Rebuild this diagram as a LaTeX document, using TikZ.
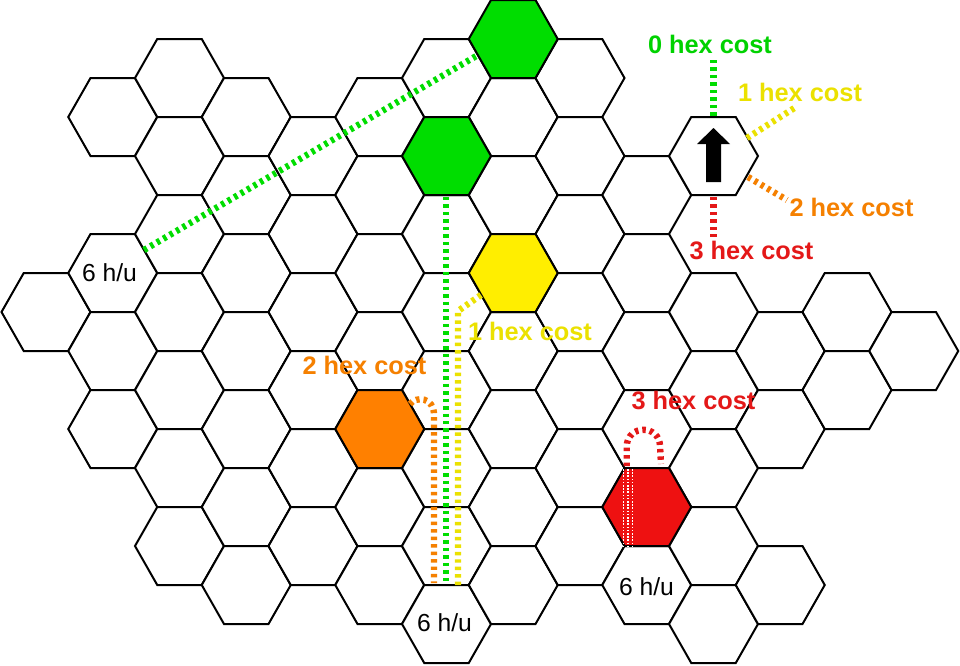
\documentclass[tikz,border=0pt]{standalone}
\usepackage{fontspec}
\setmainfont{Liberation Sans}
\definecolor{hexgreen}{RGB}{0,221,0}
\definecolor{hexyellow}{RGB}{255,238,0}
\definecolor{hexorange}{RGB}{255,128,0}
\definecolor{hexred}{RGB}{238,17,17}
\definecolor{txtgreen}{RGB}{0,210,0}
\definecolor{txtyellow}{RGB}{235,225,0}
\definecolor{txtorange}{RGB}{245,128,0}
\definecolor{txtred}{RGB}{228,24,24}
\newcommand\hexcell[3]{%
  \path[hexline,fill=#3] ({46+66.75*#1+44.5},{39*#2}) -- ++(-22.25,39) -- ++(-44.5,0)
     -- ++(-22.25,-39) -- ++(22.25,-39) -- ++(44.5,0) -- cycle;}
\begin{document}
\begin{tikzpicture}[x=0.75pt,y=-0.75pt,
  hexline/.style={draw=black,line width=1.5pt,line join=miter},
  costline/.style={line width=4.8pt,dash pattern=on 2.6pt off 3pt},
  costlabel/.style={font=\fontsize{19}{22}\selectfont\bfseries,inner sep=0pt,anchor=base},
  hulabel/.style={font=\fontsize{18.5}{22}\selectfont,inner sep=0pt,anchor=base,text=black}]
\useasboundingbox (0,0) rectangle (960,665);
\fill[white] (0,0) rectangle (960,665);
% plain hexes
\foreach \c/\ks in {0/{8},1/{3,7,9,11},2/{2,4,6,8,10,12,14},3/{3,5,7,9,11,13,15},
  4/{4,6,8,10,12,14},5/{3,5,7,9,13,15},6/{2,6,8,10,12,14,16},7/{3,5,9,11,13,15},
  8/{2,4,6,8,10,12,14},9/{5,7,9,11,15},10/{4,8,10,12,14,16},11/{9,11,15},12/{8,10},13/{9}}
  {\foreach \k in \ks {\hexcell{\c}{\k}{white}}}
% coloured hexes
\hexcell{7}{1}{hexgreen}
\hexcell{6}{4}{hexgreen}
\hexcell{7}{7}{hexyellow}
\hexcell{5}{11}{hexorange}
\hexcell{9}{13}{hexred}
% arrow in the start hex
\fill[black] (713.5,128) -- (730,144) -- (721,144) -- (721,182) -- (706,182) -- (706,144) -- (697,144) -- cycle;
% cost lines at the start hex
\coordinate (g1) at (713.5,60);  \coordinate (g2) at (713.5,117);
\coordinate (y1) at (747,138);   \coordinate (y2) at (796,107);
\coordinate (o1) at (748,177);   \coordinate (o2) at (787,200);
\coordinate (r1) at (713.5,197); \coordinate (r2) at (713.5,237);
\draw[costline,hexgreen] (g1) -- (g2);
\draw[costline,txtyellow] (y1) -- (y2);
\draw[costline,txtorange] (o1) -- (o2);
\draw[costline,txtred] (r1) -- (r2);
% paths in the grid
\coordinate (gd1) at (144,250); \coordinate (gd2) at (478,55);
\draw[costline,hexgreen] (gd1) -- (gd2);
\coordinate (gv1) at (446,197); \coordinate (gv2) at (446,583);
\draw[costline,hexgreen] (gv1) -- (gv2);
\coordinate (yv0) at (481,295); \coordinate (yv1) at (458,311); \coordinate (yv2) at (458,585);
\draw[costline,txtyellow] (yv0) -- (yv1) -- (yv2);
\coordinate (ov0) at (410,404); \coordinate (ov1) at (434,415); \coordinate (ov2) at (434,583);
\draw[costline,txtorange] (ov0) .. controls (416,396) and (434,397) .. (ov1) -- (ov2);
\coordinate (rv0) at (626.7,466); \coordinate (rv1) at (626.7,447);
\coordinate (rv2) at (660.1,447); \coordinate (rv3) at (661,464);
\draw[costline,txtred] (rv0) -- (rv1) .. controls (626.7,424) and (660.1,424) .. (rv2) -- (rv3);
% white trace inside red hex
\foreach \xx in {623.3,628,632.6}
  \draw[white,line width=1pt,dash pattern=on 1.2pt off 1.2pt] (\xx,469) -- (\xx,546);
% labels
\node[costlabel,text=txtgreen]  (l0)  at (710,53)    {0 hex cost};
\node[costlabel,text=txtyellow] (l1)  at (800,101.7) {1 hex cost};
\node[costlabel,text=txtorange] (l2)  at (851.5,216) {2 hex cost};
\node[costlabel,text=txtred]    (l3)  at (751.5,259.3) {3 hex cost};
\node[costlabel,text=txtyellow] (m1)  at (530,340)   {1 hex cost};
\node[costlabel,text=txtorange] (m2)  at (364.5,374.3) {2 hex cost};
\node[costlabel,text=txtred]    (m3)  at (693.5,409.3) {3 hex cost};
\node[hulabel] (hu1) at (109.5,281.7) {6 h/u};
\node[hulabel] (hu2) at (444.5,631.7) {6 h/u};
\node[hulabel] (hu3) at (646.5,595)   {6 h/u};
\end{tikzpicture}
\end{document}
